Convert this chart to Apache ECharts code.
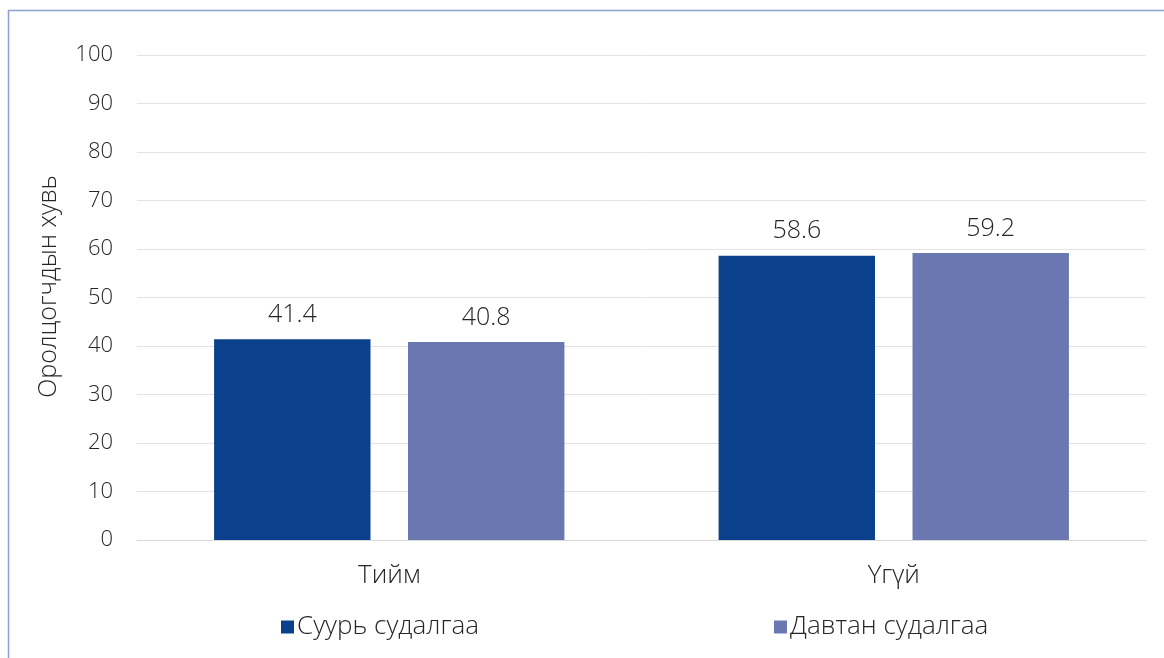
<!DOCTYPE html>
<html><head><meta charset="utf-8">
<script src="https://cdn.jsdelivr.net/npm/echarts@6/dist/echarts.min.js"></script>
<style>html,body{margin:0;padding:0;background:#fff}#c{width:1164px;height:658px}</style>
</head><body><div id="c"></div>
<script>
const categories = ['Тийм', 'Үгүй'];
const seriesNames = ['Суурь судалгаа', 'Давтан судалгаа'];
const baseline = [41.4, 58.6];
const followup = [40.8, 59.2];
const yAxisName = 'Оролцогчдын хувь';

const font = '"Open Sans", "Noto Sans", sans-serif';
const fw = 300;
const chart = echarts.init(document.getElementById('c'));
chart.setOption({
  animation: false,
  graphic: [{type:'rect', shape:{x:8.5,y:10.5,width:1170,height:700}, style:{fill:'none', stroke:'#8f9fcf', lineWidth:1.5}}],
  grid: {left:137, right:18, top:55, bottom:118, containLabel:false},
  legend: {
    data: seriesNames, bottom: 13, left: 276, itemWidth: 13, itemHeight: 13, itemGap: 295,
    icon: 'rect',
    textStyle: {fontFamily: font, fontWeight: fw, fontSize: 26, color: '#262626', padding:[0,0,0,-2]}
  },
  xAxis: {
    type: 'category', data: categories,
    axisLine: {lineStyle: {color: '#d9d9d9', width: 1}},
    axisTick: {show: false},
    axisLabel: {fontFamily: font, fontWeight: fw, fontSize: 26, color: '#262626', margin: 23}
  },
  yAxis: {
    type: 'value', min: 0, max: 100, interval: 10,
    name: yAxisName, nameLocation: 'middle', nameGap: 76,
    nameTextStyle: {fontFamily: font, fontWeight: fw, fontSize: 25, color: '#262626', padding: [0, 0, 0, 22]},
    axisLine: {show: false}, axisTick: {show: false},
    axisLabel: {fontFamily: font, fontWeight: fw, fontSize: 22, color: '#262626', margin: 24},
    splitLine: {lineStyle: {color: '#e3e3e3', width: 1}}
  },
  series: [
    {name: seriesNames[0], type: 'bar', data: baseline, barWidth: '31%', barGap: '24%',
     itemStyle: {color: '#0b418c'},
     label: {show: true, position: 'top', distance: 12, fontFamily: font, fontWeight: fw, fontSize: 25, color: '#262626'}},
    {name: seriesNames[1], type: 'bar', data: followup, barWidth: '31%',
     itemStyle: {color: '#6a77b0'},
     label: {show: true, position: 'top', distance: 12, fontFamily: font, fontWeight: fw, fontSize: 25, color: '#262626'}}
  ]
});
</script></body></html>
